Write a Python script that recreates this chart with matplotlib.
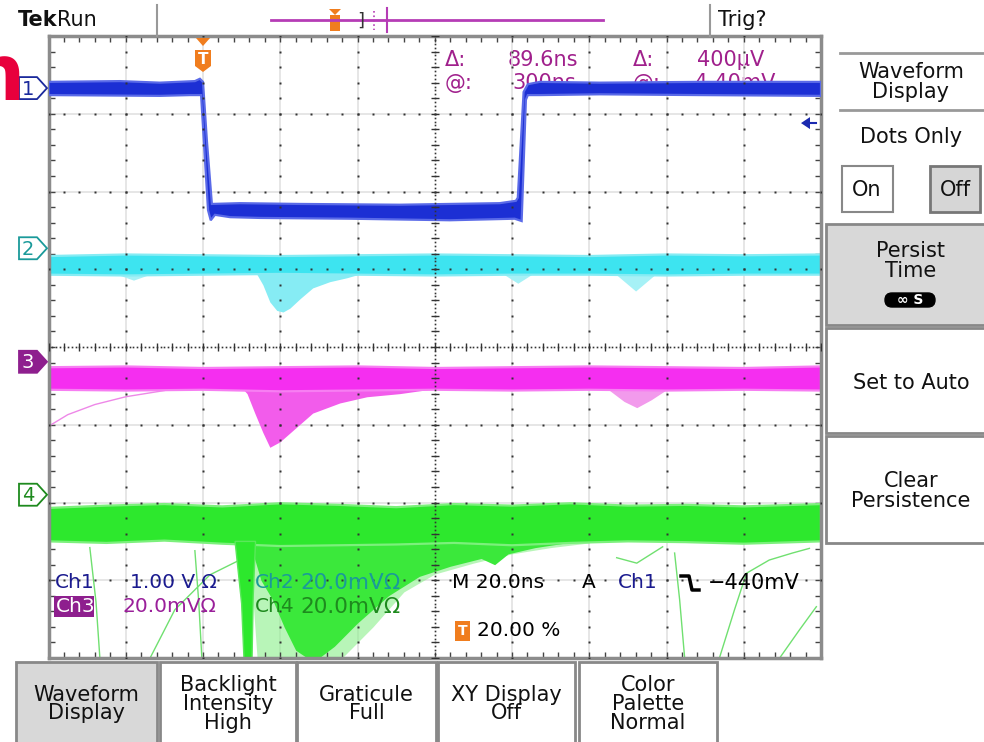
import numpy as np
import matplotlib
matplotlib.use('Agg')
import matplotlib.pyplot as plt
import matplotlib.transforms as mtransforms
from matplotlib.patches import Rectangle, Polygon, FancyBboxPatch
from matplotlib.lines import Line2D

plt.rcParams['font.family'] = ['DejaVu Sans']

# screen data: time in ns (20 ns/div), amplitude in screen divisions
trig_t = 40
trig_level_div = 2.88
ch_marker_div = [3.33, 1.27, -0.19, -1.90]

# ch1 - square pulse band (upper / lower envelope)
ch1_top_t = [0, 18.5, 28.8, 37.9, 39.2, 40.0, 41.0, 42.3, 49.5, 65.1, 90.9, 116.8, 121.0, 121.5, 123.0, 124.1, 127.2, 142.7, 168.6, 200]
ch1_top = [3.41, 3.42, 3.40, 3.42, 3.45, 3.41, 2.66, 1.84, 1.85, 1.84, 1.83, 1.85, 1.88, 1.92, 3.28, 3.38, 3.41, 3.40, 3.41, 3.41]
ch1_bot_t = [0, 28.8, 36.6, 39.5, 41.3, 42.0, 43.1, 47.0, 54.7, 78.0, 103.9, 120.7, 122.5, 123.6, 124.1, 127.2, 142.7, 168.6, 200]
ch1_bot = [3.24, 3.23, 3.24, 3.24, 1.76, 1.63, 1.70, 1.67, 1.66, 1.65, 1.63, 1.65, 1.62, 3.18, 3.24, 3.24, 3.25, 3.24, 3.23]

# ch2
band_t = [0, 20, 40, 60, 80, 100, 120, 140, 160, 180, 200]
ch2_top = [1.17, 1.19, 1.18, 1.17, 1.18, 1.19, 1.18, 1.17, 1.19, 1.18, 1.19]
ch2_bot = [0.93, 0.92, 0.93, 0.94, 0.93, 0.92, 0.93, 0.93, 0.92, 0.93, 0.93]
ch2_dip_t = [54, 55.5, 57.3, 59.1, 60.7, 62.5, 65.1, 68.4, 72.8, 77.2, 80]
ch2_dip = [0.93, 0.80, 0.58, 0.47, 0.45, 0.50, 0.62, 0.76, 0.84, 0.89, 0.93]
ch2_small_t = [[18, 22, 26], [118, 121.5, 125], [147, 152, 157]]
ch2_small = [[0.93, 0.86, 0.93], [0.93, 0.82, 0.93], [0.93, 0.72, 0.93]]

# ch3
ch3_top = [-0.26, -0.25, -0.27, -0.26, -0.25, -0.27, -0.26, -0.25, -0.26, -0.27, -0.25]
ch3_bot = [-0.55, -0.56, -0.55, -0.57, -0.56, -0.55, -0.56, -0.55, -0.56, -0.55, -0.56]
ch3_dip_t = [50.5, 51.4, 53.4, 55.5, 57.3, 59.9, 63.8, 68.4, 75.4, 82.4, 90.9, 98]
ch3_dip = [-0.55, -0.60, -0.85, -1.10, -1.29, -1.22, -1.05, -0.85, -0.72, -0.64, -0.60, -0.55]
ch3_small_t = [145, 149, 152.3, 156, 160]
ch3_small = [-0.55, -0.70, -0.78, -0.68, -0.55]
ch3_stray_t = [0, 5, 12, 20, 30]
ch3_stray = [-1.02, -0.87, -0.74, -0.64, -0.56]

# ch4
ch4_t = [0, 15, 30, 45, 60, 75, 90, 105, 120, 135, 150, 165, 180, 200]
ch4_top = [-2.07, -2.04, -2.02, -2.05, -2.01, -2.03, -2.06, -2.02, -2.04, -2.01, -2.04, -2.03, -2.05, -2.02]
ch4_bot = [-2.50, -2.52, -2.49, -2.53, -2.56, -2.55, -2.54, -2.52, -2.55, -2.52, -2.50, -2.51, -2.53, -2.50]
ch4_spike_t = [48.3, 50.0, 50.6, 52.7, 53.0, 53.6]
ch4_spike = [-2.5, -3.3, -4.0, -4.0, -3.2, -2.5]
ch4_fan_t = [52, 55, 58, 61, 64, 67, 70, 74, 80, 88, 96, 104, 112, 115.5, 119, 126, 134]
ch4_fan = [-2.5, -3.0, -3.25, -3.6, -3.9, -4.0, -4.0, -3.85, -3.55, -3.2, -2.95, -2.82, -2.72, -2.80, -2.66, -2.58, -2.52]
ch4_halo_t = [52, 54, 58, 62, 66, 70, 76, 84, 92, 100, 110, 120, 130, 140]
ch4_halo = [-2.6, -4.0, -4.0, -4.0, -4.0, -4.0, -4.0, -3.6, -3.15, -2.92, -2.78, -2.66, -2.58, -2.52]
ch4_stray_t = [[10.7, 12.3, 13.3], [37.9, 38.9, 39.7], [26.3, 32.7, 41.8, 49.5],
               [162.1, 163.4, 164.7], [173.7, 177.6, 180.7, 186.6, 192.6, 197.0],
               [189.3, 194.4, 198.8], [147.1, 152.3, 159.0]]
ch4_stray = [[-2.58, -3.28, -4.0], [-2.62, -3.28, -4.0], [-4.0, -3.38, -2.93, -2.74],
             [-2.65, -3.25, -4.0], [-4.0, -3.38, -2.91, -2.74, -2.65, -2.59],
             [-4.0, -3.64, -3.34], [-2.71, -2.78, -2.57]]

W, H = 984, 742
fig = plt.figure(figsize=(W / 100, H / 100), dpi=100)
fig.patch.set_facecolor('white')
px = mtransforms.Affine2D().scale(1 / W, -1 / H).translate(0, 1) + fig.transFigure

ax = fig.add_axes([48.5 / W, 1 - 658 / H, 772.5 / W, 622 / H])
ax.set_facecolor('none')
ax.set_xlim(0, 200)
ax.set_ylim(-4, 4)
ax.set_xticks(np.arange(0, 201, 4))
ax.set_yticks(np.arange(-4, 4.01, 0.2))
ax.tick_params(direction='in', length=4, width=1, color='#444', top=True, right=True,
               labelbottom=False, labelleft=False)
for s in ax.spines.values():
    s.set_color('#8c8c8c')
    s.set_linewidth(2.5)


def band(t_top, top, t_bot, bot, fc, ec, z=2):
    xs = list(t_top) + list(t_bot)[::-1]
    ys = list(top) + list(bot)[::-1]
    ax.fill(xs, ys, fc=fc, ec=ec, lw=1.6, zorder=z)


# traces
ax.fill_between(ch4_halo_t, ch4_halo, -2.5, color='#8aef8a', alpha=0.6, lw=0, zorder=1.5)
ax.fill_between(ch4_fan_t, ch4_fan, -2.45, color='#3be83b', lw=0, zorder=1.6)
for tt, yy in zip(ch4_stray_t, ch4_stray):
    ax.plot(tt, yy, color='#70e070', lw=1, zorder=1.7)
band(ch4_t, ch4_top, ch4_t, ch4_bot, '#2de82d', '#7cf07c')
ax.fill(ch4_spike_t, ch4_spike, fc='#2de82d', ec='#5ae85a', lw=1, zorder=2.1)

ax.fill_between(ch3_dip_t, ch3_dip, -0.5, color='#f25ceb', lw=0, zorder=1.6)
ax.fill_between(ch3_small_t, ch3_small, -0.5, color='#f29aec', lw=0, zorder=1.6)
ax.plot(ch3_stray_t, ch3_stray, color='#ee88e8', lw=1, zorder=1.6)
band(band_t, ch3_top, band_t, ch3_bot, '#f52ef0', '#f77ef2')

ax.fill_between(ch2_dip_t, ch2_dip, 0.97, color='#86ecf4', lw=0, zorder=1.6)
for tt, yy in zip(ch2_small_t, ch2_small):
    ax.fill_between(tt, yy, 0.97, color='#a6f1f6', lw=0, zorder=1.6)
band(band_t, ch2_top, band_t, ch2_bot, '#3de4f0', '#86ecf4')

band(ch1_top_t, ch1_top, ch1_bot_t, ch1_bot, '#1c2fd4', '#5a6ae8', z=3)

# graticule
for k in range(1, 10):
    x = k * 20
    if x == 100:
        continue
    ax.axvline(x, color='#e2e2e2', lw=1.2, zorder=0.5)
    ax.plot(np.full(41, x), np.linspace(-4, 4, 41), ls='none', marker='s', ms=1.5,
            mfc='#333', mec='none', zorder=6)
for k in range(-3, 4):
    if k == 0:
        continue
    ax.axhline(k, color='#e2e2e2', lw=1.2, zorder=0.5)
    ax.plot(np.linspace(0, 200, 51), np.full(51, k), ls='none', marker='s', ms=1.5,
            mfc='#333', mec='none', zorder=6)
ax.plot(np.linspace(0, 200, 201), np.zeros(201), ls='none', marker='s', ms=1.2, mfc='#333', mec='none', zorder=6)
ax.plot(np.linspace(0, 200, 51), np.zeros(51), ls='none', marker='|', ms=6, mew=1, color='#333', zorder=6)
ax.plot(np.full(161, 100), np.linspace(-4, 4, 161), ls='none', marker='s', ms=1.2, mfc='#333', mec='none', zorder=6)
ax.plot(np.full(41, 100), np.linspace(-4, 4, 41), ls='none', marker='_', ms=6, mew=1, color='#333', zorder=6)


def xpx(t):
    return ax.transData.transform((t, 0))[0]


def ypx(d):
    return H - ax.transData.transform((0, d))[1]


def ftext(x, y, s, **kw):
    kw.setdefault('va', 'center')
    fig.text(x, y, s, transform=px, **kw)


def fpatch(p):
    p.set_transform(px)
    fig.add_artist(p)


def fline(xs, ys, **kw):
    fig.add_artist(Line2D(xs, ys, transform=px, **kw))


# channel markers on the left
marker_style = [('1', '#1b2a9c', 'white', '#1b2a9c'), ('2', '#1a9a9a', 'white', '#1a9a9a'),
                ('3', '#8e1f8e', '#8e1f8e', 'white'), ('4', '#1e8a1e', 'white', '#1e8a1e')]
for d, (lab, ec, fc, tc) in zip(ch_marker_div, marker_style):
    y = ypx(d)
    fpatch(Polygon([(19, y - 11), (37, y - 11), (47, y), (37, y + 11), (19, y + 11)],
                   closed=True, fc=fc, ec=ec, lw=1.3))
    ftext(28, y + 1, lab, color=tc, fontsize=14, ha='center')

# trigger level arrow (right edge)
yt = ypx(trig_level_div)
fpatch(Polygon([(801, yt), (810, yt - 6), (810, yt + 6)], closed=True, fc='#1b2ab0', ec='none'))
fline([808, 816], [yt, yt], color='#1b2ab0', lw=1.5)

# trigger position marker (top)
xt = xpx(trig_t)
fpatch(Polygon([(xt - 7, 38), (xt + 7, 38), (xt, 46)], closed=True, fc='#f07d1e', ec='none'))
fpatch(Polygon([(xt - 8, 50), (xt + 8, 50), (xt + 8, 66), (xt, 72), (xt - 8, 66)], closed=True,
               fc='#f07d1e', ec='none'))
ftext(xt, 59, 'T', color='white', fontsize=11, fontweight='bold', ha='center')

# cursor readouts (drawn beneath the traces)
cur = '#a0208c'
for x, y, s in [(445, 60, 'Δ:'), (508, 60, '89.6ns'), (633, 60, 'Δ:'), (697, 60, '400μV'),
                (445, 83, '@:'), (512, 83, '300ns'), (633, 83, '@:'), (687, 83, '-4.40mV')]:
    ftext(x, y, s, color=cur, fontsize=15, zorder=-1)

# channel settings readout
fs = 14.5
ftext(55, 583, 'Ch1', color='#1b1b8f', fontsize=fs)
ftext(130, 583, '1.00 V Ω', color='#1b1b8f', fontsize=fs)
ftext(255, 583, 'Ch2', color='#1a9a9a', fontsize=fs)
ftext(300, 583, '20.0mVΩ', color='#1a9a9a', fontsize=15.5)
ftext(452, 583, 'M 20.0ns', color='black', fontsize=fs)
ftext(582, 583, 'A', color='black', fontsize=fs)
ftext(618, 583, 'Ch1', color='#1b1b8f', fontsize=fs)
fline([681, 689, 692, 699], [576, 576, 590, 590], color='black', lw=2.5)
ftext(708, 583, '−440mV', color='black', fontsize=15)
fpatch(Rectangle((54, 596), 40, 21, fc='#8e1f8e', ec='none'))
ftext(56, 607, 'Ch3', color='white', fontsize=fs)
ftext(122, 607, '20.0mVΩ', color='#9a1f9a', fontsize=fs)
ftext(255, 607, 'Ch4', color='#1e8a1e', fontsize=fs)
ftext(300, 607, '20.0mVΩ', color='#1e8a1e', fontsize=15.5)
fpatch(Rectangle((455, 621), 15, 20, fc='#f07d1e', ec='none'))
ftext(462.5, 631, 'T', color='white', fontsize=10, fontweight='bold', ha='center')
ftext(477, 631, '20.00 %', color='black', fontsize=fs)

# top status bar
ftext(18, 20, 'Tek', fontsize=15, fontweight='bold', color='#111')
ftext(57, 20, 'Run', fontsize=15, color='#111')
ftext(718, 20, 'Trig?', fontsize=15, color='#111')
fline([157, 157], [5, 36], color='#999', lw=1.5)
fline([710, 710], [5, 36], color='#999', lw=1.5)
fline([271, 603], [20, 20], color='#b53cb5', lw=2)
fpatch(Polygon([(329, 9), (341, 9), (335, 15)], closed=True, fc='#f07d1e', ec='none'))
fpatch(Rectangle((330, 15), 10, 16, fc='#f07d1e', ec='none'))
ftext(361, 21, ']', fontsize=13, color='#333', ha='center')
fline([374, 374], [11, 30], color='#b53cb5', lw=1.2, ls=':')
fline([387, 387], [8, 32], color='#b53cb5', lw=1.5)

# red letter cut by the left edge
ftext(-31, 100, 'n', fontsize=56, fontweight='bold', color='#e8003c', va='baseline')

# right side menu
fline([840, 984], [53, 53], color='#999', lw=2)
fline([840, 984], [110, 110], color='#999', lw=2)
ftext(911, 82, 'Waveform\nDisplay', fontsize=15, ha='center', linespacing=1.0, color='#111')
ftext(911, 137, 'Dots Only', fontsize=15, ha='center', color='#111')
fpatch(Rectangle((842, 166), 51, 46, fc='white', ec='#888', lw=1.5))
ftext(867, 190, 'On', fontsize=15, ha='center', color='#111')
fpatch(Rectangle((930, 166), 50, 46, fc='#d6d6d6', ec='#777', lw=2))
ftext(955, 190, 'Off', fontsize=15, ha='center', color='#111')
fpatch(Rectangle((826, 224), 170, 101, fc='#d8d8d8', ec='#888', lw=2))
ftext(911, 261, 'Persist\nTime', fontsize=15, ha='center', linespacing=0.95, color='#111')
fpatch(FancyBboxPatch((885, 293), 50, 14, boxstyle='round,pad=0,rounding_size=7', fc='black', ec='black'))
ftext(910, 300, '∞ S', fontsize=10, ha='center', color='white', fontweight='bold')
fpatch(Rectangle((826, 328), 170, 105, fc='white', ec='#888', lw=2))
ftext(911, 383, 'Set to Auto', fontsize=15, ha='center', color='#111')
fpatch(Rectangle((826, 436), 170, 107, fc='white', ec='#888', lw=2))
ftext(911, 491, 'Clear\nPersistence', fontsize=15, ha='center', linespacing=0.95, color='#111')

# bottom menu buttons
buttons = [(16, 141, 'Waveform\nDisplay', '#d8d8d8'), (160, 136, 'Backlight\nIntensity\nHigh', 'white'),
           (297, 139, 'Graticule\nFull', 'white'), (438, 137, 'XY Display\nOff', 'white'),
           (579, 138, 'Color\nPalette\nNormal', 'white')]
for x0, w, lab, fc in buttons:
    fpatch(Rectangle((x0, 662), w, 90, fc=fc, ec='#888', lw=2))
    ftext(x0 + w / 2, 704, lab, fontsize=15, ha='center', linespacing=0.92, color='#111')

fig.savefig('out.png', dpi=100)
